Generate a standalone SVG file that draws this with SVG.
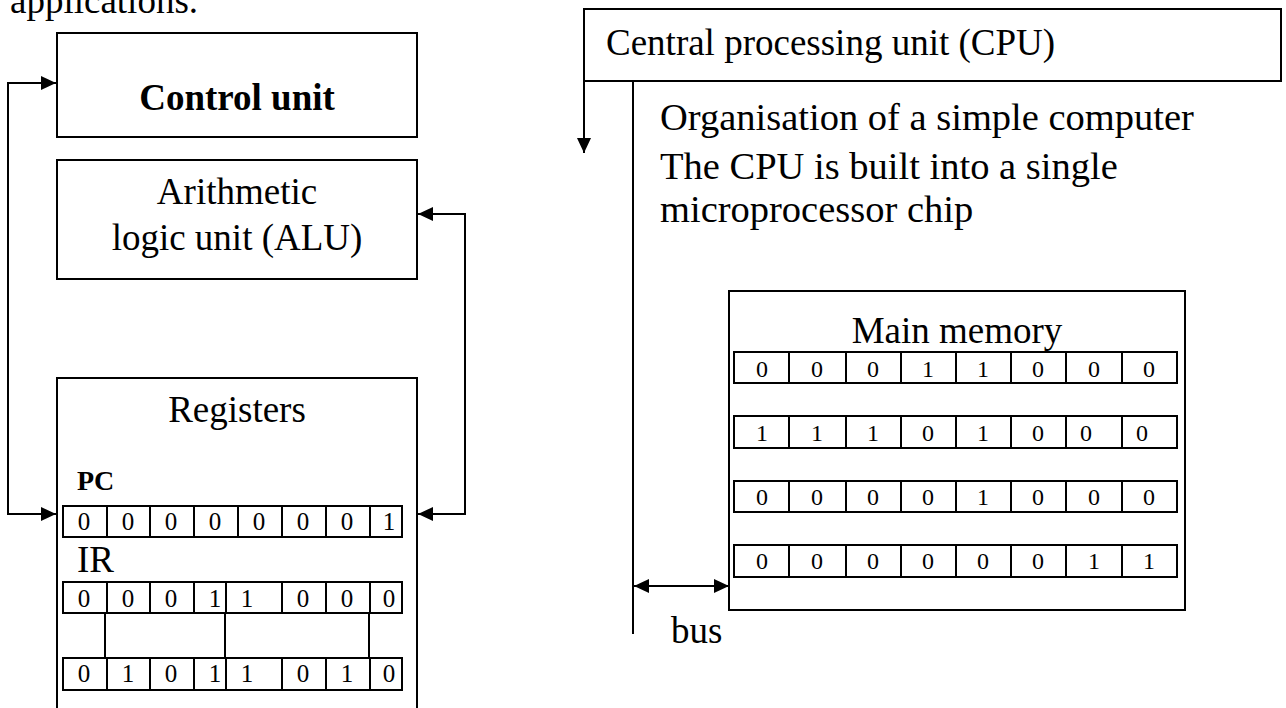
<svg xmlns="http://www.w3.org/2000/svg" width="1286" height="708" viewBox="0 0 1286 708">
<style>
text{font-family:"Liberation Serif","Times New Roman",serif;fill:#000}
.big{font-size:37px}
.desc{font-size:38.5px}
.bold{font-weight:bold}
.mid{text-anchor:middle}
.d{font-size:25px;text-anchor:middle}
.m{font-size:24px;text-anchor:middle}
.box{fill:#fff;stroke:#000;stroke-width:2}
.ln{fill:none;stroke:#000;stroke-width:2}
</style>
<defs>
<marker id="ah" markerUnits="userSpaceOnUse" markerWidth="15" markerHeight="14" refX="15" refY="7" orient="auto-start-reverse">
<path d="M0,0 L15,7 L0,14 z" fill="#000"/>
</marker>
</defs>
<rect width="1286" height="708" fill="#fff"/>
<text class="big" x="10" y="13">applications.</text>

<g id="control-unit">
<rect class="box" x="57" y="33" width="360" height="104"/>
<text class="big bold mid" x="237" y="110">Control unit</text>
</g>

<g id="alu">
<rect class="box" x="57" y="160" width="360" height="119"/>
<text class="big mid" x="237" y="204">Arithmetic</text>
<text class="big mid" x="237" y="250">logic unit (ALU)</text>
</g>

<g id="registers">
<rect class="box" x="57" y="378" width="360" height="360"/>
<text class="big mid" x="237" y="422">Registers</text>
<text class="bold" style="font-size:28px" x="77" y="490">PC</text>
<g id="pc-row">
<rect class="box" x="63" y="506" width="339" height="31"/>
<path class="ln" d="M107,506V537M150,506V537M194,506V537M238,506V537M282,506V537M326,506V537M370,506V537"/>
<text class="d" x="84" y="530">0</text><text class="d" x="128" y="530">0</text><text class="d" x="171" y="530">0</text><text class="d" x="215" y="530">0</text><text class="d" x="259" y="530">0</text><text class="d" x="303" y="530">0</text><text class="d" x="347" y="530">0</text><text class="d" x="389" y="530">1</text>
</g>
<text class="big" x="77" y="572">IR</text>
<g id="ir-row-1">
<rect class="box" x="63" y="582" width="339" height="31"/>
<path class="ln" d="M107,582V613M150,582V613M194,582V613M226,582V613M282,582V613M326,582V613M370,582V613"/>
<text class="d" x="84" y="607">0</text><text class="d" x="128" y="607">0</text><text class="d" x="171" y="607">0</text><text class="d" x="215" y="607">1</text><text class="d" x="247" y="607">1</text><text class="d" x="303" y="607">0</text><text class="d" x="347" y="607">0</text><text class="d" x="389" y="607">0</text>
</g>
<path class="ln" d="M105,613V661M225,613V661M369,613V661"/>
<g id="ir-row-2">
<rect class="box" x="63" y="658" width="339" height="32"/>
<path class="ln" d="M107,658V690M150,658V690M194,658V690M226,658V690M282,658V690M326,658V690M370,658V690"/>
<text class="d" x="84" y="682">0</text><text class="d" x="128" y="682">1</text><text class="d" x="171" y="682">0</text><text class="d" x="215" y="682">1</text><text class="d" x="247" y="682">1</text><text class="d" x="303" y="682">0</text><text class="d" x="347" y="682">1</text><text class="d" x="389" y="682">0</text>
</g>
</g>

<g id="cpu">
<rect class="box" x="584" y="9" width="697" height="72"/>
<text class="big" x="606" y="55">Central processing unit (CPU)</text>
</g>

<g id="cpu-description">
<text class="desc" x="660" y="130">Organisation of a simple computer</text>
<text class="desc" x="660" y="179">The CPU is built into a single</text>
<text class="desc" x="660" y="222">microprocessor chip</text>
</g>

<g id="main-memory">
<rect class="box" x="729" y="291" width="456" height="319"/>
<text class="big mid" x="957" y="343">Main memory</text>
<g id="mem-row-1">
<rect class="box" x="734" y="352" width="443" height="31"/>
<path class="ln" d="M789,352V383M846,352V383M901,352V383M956,352V383M1011,352V383M1066,352V383M1122,352V383"/>
<text class="m" x="762" y="377">0</text><text class="m" x="817" y="377">0</text><text class="m" x="873" y="377">0</text><text class="m" x="928" y="377">1</text><text class="m" x="983" y="377">1</text><text class="m" x="1038" y="377">0</text><text class="m" x="1094" y="377">0</text><text class="m" x="1149" y="377">0</text>
</g>
<g id="mem-row-2">
<rect class="box" x="734" y="416" width="443" height="32"/>
<path class="ln" d="M789,416V448M846,416V448M901,416V448M956,416V448M1011,416V448M1066,416V448M1122,416V448"/>
<text class="m" x="762" y="441">1</text><text class="m" x="817" y="441">1</text><text class="m" x="873" y="441">1</text><text class="m" x="928" y="441">0</text><text class="m" x="983" y="441">1</text><text class="m" x="1038" y="441">0</text><text class="m" x="1086" y="441">0</text><text class="m" x="1142" y="441">0</text>
</g>
<g id="mem-row-3">
<rect class="box" x="734" y="481" width="443" height="31"/>
<path class="ln" d="M789,481V512M846,481V512M901,481V512M956,481V512M1011,481V512M1066,481V512M1122,481V512"/>
<text class="m" x="762" y="505">0</text><text class="m" x="817" y="505">0</text><text class="m" x="873" y="505">0</text><text class="m" x="928" y="505">0</text><text class="m" x="983" y="505">1</text><text class="m" x="1038" y="505">0</text><text class="m" x="1094" y="505">0</text><text class="m" x="1149" y="505">0</text>
</g>
<g id="mem-row-4">
<rect class="box" x="734" y="545" width="443" height="32"/>
<path class="ln" d="M789,545V577M846,545V577M901,545V577M956,545V577M1011,545V577M1066,545V577M1122,545V577"/>
<text class="m" x="762" y="569">0</text><text class="m" x="817" y="569">0</text><text class="m" x="873" y="569">0</text><text class="m" x="928" y="569">0</text><text class="m" x="983" y="569">0</text><text class="m" x="1038" y="569">0</text><text class="m" x="1094" y="569">1</text><text class="m" x="1149" y="569">1</text>
</g>
</g>

<g id="connectors">
<path class="ln" d="M56,514H8V83H56" marker-start="url(#ah)" marker-end="url(#ah)"/>
<path class="ln" d="M418,514H465V214H418" marker-start="url(#ah)" marker-end="url(#ah)"/>
<path class="ln" d="M584,81V153" marker-end="url(#ah)"/>
<path class="ln" d="M633,81V634"/>
<path class="ln" d="M634,586H729" marker-start="url(#ah)" marker-end="url(#ah)"/>
</g>
<text class="big" x="671" y="643">bus</text>
</svg>
